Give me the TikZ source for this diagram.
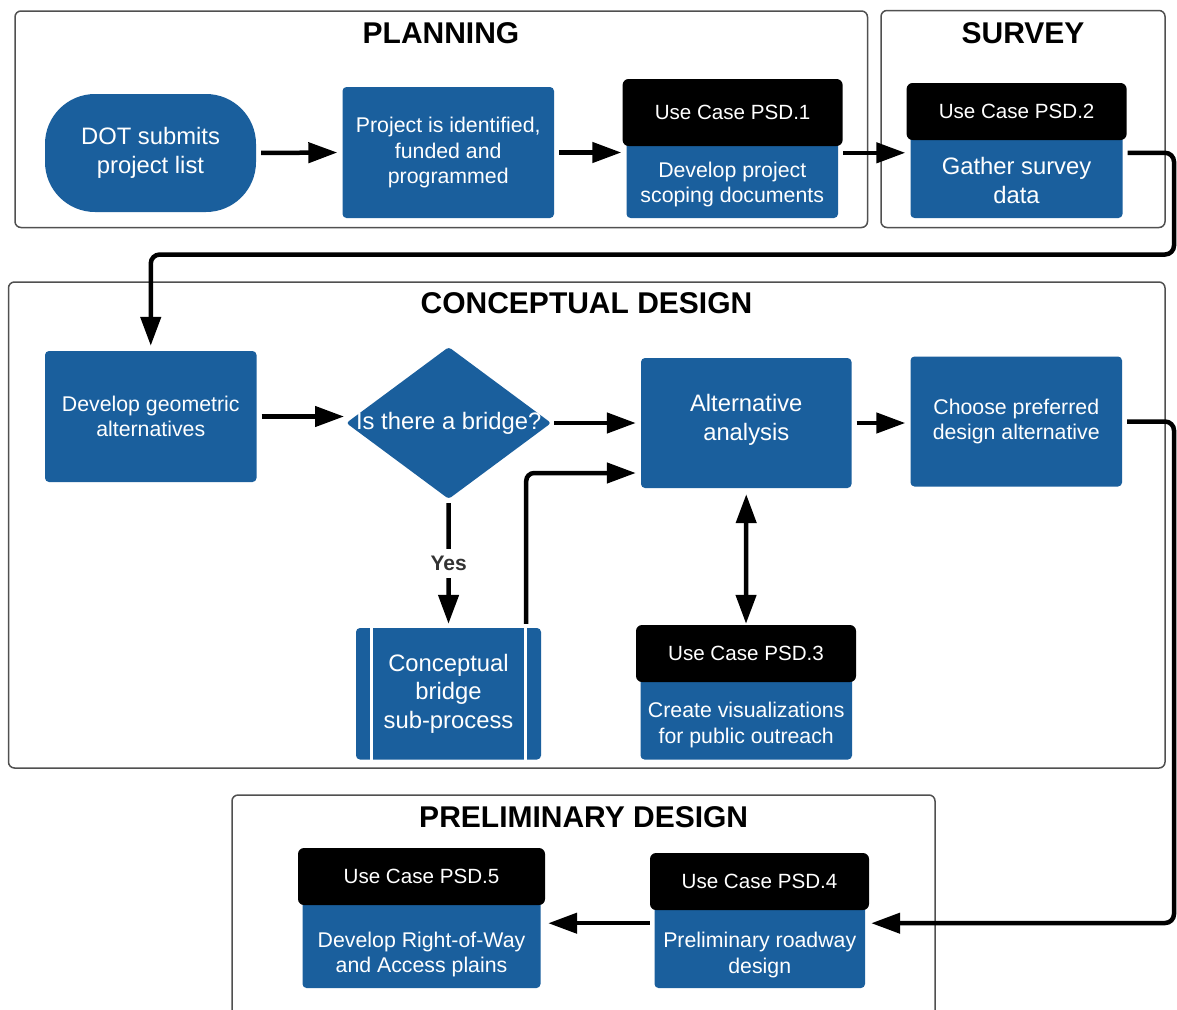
\documentclass[tikz,border=0pt]{standalone}
\usepackage{fontspec}
\setmainfont{Liberation Sans}
\usetikzlibrary{arrows.meta,shapes.geometric}

\definecolor{boxblue}{RGB}{26,95,157}
\definecolor{framegray}{RGB}{80,80,80}
\definecolor{yesgray}{RGB}{51,51,51}

\newcommand{\txtbig}{\fontsize{23.8}{28.5}\selectfont}
\newcommand{\txtsmall}{\fontsize{21.3}{25.6}\selectfont}
\newcommand{\txtuc}{\fontsize{20.6}{24}\selectfont}
\newcommand{\txttitle}{\bfseries\fontsize{30}{36}\selectfont}

\begin{document}
\begin{tikzpicture}[x=1pt,y=-1pt,
  frame/.style={draw=framegray, line width=1.5pt, rounded corners=6pt, inner sep=0pt},
  title/.style={font=\txttitle, inner sep=0pt},
  box/.style={fill=boxblue, text=white, rounded corners=4pt, align=center,
              inner sep=0pt, font=\txtsmall},
  hdr/.style={fill=black, text=white, rounded corners=6pt, font=\txtuc, inner sep=0pt},
  bodytxt/.style={text=white, align=center, font=\txtsmall, inner sep=0pt},
  yes/.style={fill=white, text=yesgray, font=\bfseries\fontsize{21}{25}\selectfont,
              inner sep=2pt, minimum height=29pt},
  flow/.style={line width=4.5pt, -{Triangle[length=29pt,width=20pt]},
               shorten <=5pt, shorten >=5pt},
]
\useasboundingbox (0,0) rectangle (1177,1009);
\fill[white] (0,0) rectangle (1177,1009);
\clip (0,0) rectangle (1177,1009);

% phase frames and their titles
\node[frame, minimum width=852.5pt, minimum height=216.5pt] (fplan) at (441.25,119.25) {};
\node[title] (tplan) at (441,33) {PLANNING};
\node[frame, minimum width=284pt, minimum height=217pt] (fsurv) at (1023,119) {};
\node[title] (tsurv) at (1023,33) {SURVEY};
\node[frame, minimum width=1156.5pt, minimum height=486pt] (fconc) at (586.75,525) {};
\node[title] (tconc) at (586.5,303) {CONCEPTUAL DESIGN};
\node[frame, minimum width=703pt, minimum height=224pt] (fprel) at (583.5,907) {};
\node[title] (tprel) at (583.7,817) {PRELIMINARY DESIGN};

% planning
\node[box, font=\txtbig, rounded corners=50pt, minimum width=211pt, minimum height=118pt]
  (dot) at (150.5,153) {DOT submits\\project list};
\node[box, minimum width=211.5pt, minimum height=131pt]
  (proj) at (448.25,152.5) {Project is identified,\\funded and\\programmed};
\node[box, minimum width=211.5pt, minimum height=78pt,
  label={[bodytxt, yshift=-5.5pt]center:{Develop project\\scoping documents}}]
  (u1b) at (732.25,179) {};
\node[hdr, minimum width=220pt, minimum height=67pt] (u1h) at (732.6,112.5) {Use Case PSD.1};

% survey
\node[box, minimum width=212pt, minimum height=84pt,
  label={[bodytxt, font=\txtbig, yshift=-4.5pt]center:{Gather survey\\data}}]
  (u2b) at (1016.5,176) {};
\node[hdr, minimum width=220pt, minimum height=57pt] (u2h) at (1016.6,111.5) {Use Case PSD.2};

% conceptual design
\node[box, minimum width=211.5pt, minimum height=131pt]
  (geo) at (150.75,416.5) {Develop geometric\\alternatives};
\node[diamond, fill=boxblue, text=white, font=\txtbig, aspect=1.35, inner sep=0pt,
  minimum width=205pt, minimum height=152pt, rounded corners=3pt]
  (dia) at (448.7,423) {\makebox[0pt]{Is there a bridge?}};
\node[box, minimum width=210.5pt, minimum height=130pt,
  label={[bodytxt, font=\txtbig, yshift=3pt]center:{Alternative\\analysis}}]
  (alt) at (746.25,423) {};
\node[box, minimum width=211.5pt, minimum height=130pt]
  (cho) at (1016.25,421.5) {Choose preferred\\design alternative};
\node[box, font=\txtbig, minimum width=185pt, minimum height=131.5pt]
  (br) at (448.5,693.75) {Conceptual\\bridge\\sub-process};
\draw[white, line width=3pt] ([xshift=16pt]br.north west) -- ([xshift=16pt]br.south west);
\draw[white, line width=3pt] ([xshift=-16pt]br.north east) -- ([xshift=-16pt]br.south east);
\node[box, minimum width=211.5pt, minimum height=83.5pt,
  label={[bodytxt, yshift=-7.5pt]center:{Create visualizations\\for public outreach}}]
  (u3b) at (746.25,717.75) {};
\node[hdr, minimum width=220pt, minimum height=57pt] (u3h) at (746,653.5) {Use Case PSD.3};

% preliminary design
\node[box, minimum width=238pt, minimum height=89pt,
  label={[bodytxt, yshift=-11pt]center:{Develop Right-of-Way\\and Access plains}}]
  (u5b) at (421.5,943.5) {};
\node[hdr, minimum width=247pt, minimum height=57pt] (u5h) at (421.5,876.5) {Use Case PSD.5};
\node[box, minimum width=210.5pt, minimum height=84pt,
  label={[bodytxt, yshift=-9pt]center:{Preliminary roadway\\design}}]
  (u4b) at (759.75,946) {};
\node[hdr, minimum width=219pt, minimum height=57pt] (u4h) at (759.5,881.5) {Use Case PSD.4};

% connectors
\coordinate (u1out) at ([yshift=-13pt]u1b.north east);
\coordinate (u2out) at ([yshift=-19pt]u2b.north east);
\coordinate (u4in)  at ([yshift=-13pt]u4h.south east);
\coordinate (u4out) at ([yshift=-13pt]u4h.south west);

\draw[flow] (dot.east) -- (proj.west);
\draw[flow] (proj.east) -- (proj.east -| u1b.west);
\draw[flow] (u1out) -- (u1out -| u2b.west);
\draw[flow, rounded corners=9pt] (u2out) -| (1174,254.5) -| (geo.north);
\draw[flow, shorten >=2pt] (geo.east) -- (geo.east -| dia.west);
\draw[flow, shorten <=3pt] (dia.east) -- (alt.west);
\draw[flow, shorten <=4pt, shorten >=4pt] (dia.south) -- node[yes] (yeslbl) {Yes} (br.north);
\draw[flow, rounded corners=8pt, shorten <=4pt] ([xshift=-15pt]br.north east) |- ([yshift=-50pt]alt.west);
\draw[line width=4.5pt, {Triangle[length=29pt,width=20pt]}-{Triangle[length=29pt,width=20pt]},
  shorten <=6pt, shorten >=1pt] (alt.south) -- (u3h.north);
\draw[flow] (alt.east) -- (cho.west |- alt.east);
\draw[flow, rounded corners=9pt, shorten >=2pt] (cho.east) -| (1174,923) -- (u4in);
\draw[flow, shorten <=0pt, shorten >=3pt] (u4out) -- (u4out -| u5h.east);
\end{tikzpicture}
\end{document}
